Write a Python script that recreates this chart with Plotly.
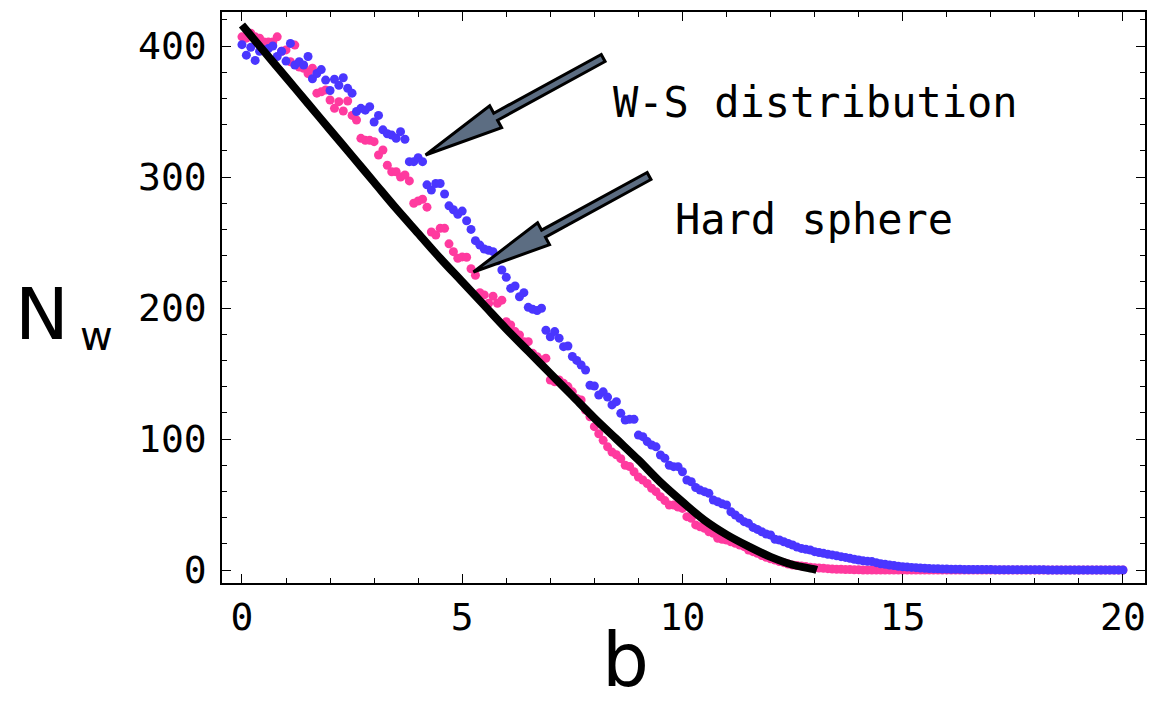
import numpy as np
import plotly.graph_objects as go

# ---------------- data ----------------
b_step = 0.1
b_vals = [round(i * b_step, 1) for i in range(201)]

ws_values = [
    401, 393, 399, 389, 396, 397, 398, 400, 392, 396,
    388.5, 402, 385.5, 388, 385.5, 392, 375, 379, 382, 374,
    366, 374.6, 370, 375.8, 367.7, 364, 350, 352.4, 351, 353.7,
    342, 347, 336, 333, 332, 329.5, 334.6, 328.8, 311.7, 311.7,
    314.7, 311.7, 294, 290, 295, 295, 287, 278, 275, 271.5,
    274, 266.6, 260, 251.4, 248, 245, 244, 243, 236, 229,
    223.4, 215, 216.8, 208.6, 211.7, 200.5, 199, 198, 199.8, 183,
    178, 182, 177, 170.5, 171, 163, 160, 156.5, 152.7, 141,
    140.5, 133.6, 136, 132, 126, 128.5, 119.6, 114.5, 115, 115,
    103, 101.8, 98, 95.4, 94, 87.8, 85.3, 80, 78.9, 78.9,
    75, 68.7, 67.4, 63, 61, 59.8, 58.5, 53.4, 52.1, 50.5,
    49.6, 44.5, 42, 39.5, 36.9, 35.6, 32.5, 31, 29.2, 27.5,
    26.7, 23.5, 22.9, 21.6, 20.3, 19.1, 17.5, 16.5, 15.8, 15.3,
    14, 13.4, 12.7, 12, 11.5, 10.8, 10.2, 9.6, 9, 8.2,
    7.6, 7, 6.6, 6.4, 5.6, 4.8, 4.4, 3.8, 3.4, 2.9,
    2.5, 2.2, 2, 1.8, 1.5, 1.3, 1.1, 1.0, 0.9, 0.8,
    0.7, 0.6, 0.5, 0.5, 0.4, 0.4, 0.4, 0.3, 0.3, 0.3,
    0.3, 0.2, 0.2, 0.2, 0.2, 0.1, 0.1, 0.1, 0.1, 0.1,
    0.1, 0.1, 0.1, 0, 0, 0, 0, 0, 0, 0,
    0, 0, 0, 0, 0, 0, 0, 0, 0, 0,
    0,
]

hs_values = [
    407, 406, 409.7, 407, 406, 403, 403, 403, 407, 396,
    397, 388, 400.7, 384, 383, 379, 383, 364, 365, 366.4,
    358.8, 352.4, 357.5, 350.4, 358, 347, 343.5, 329.5, 328, 328,
    327, 316.8, 320.6, 309, 304, 304, 300, 301.5, 297, 280,
    281.7, 283, 277, 258, 255.7, 260.8, 260.8, 249, 243, 238,
    239, 238.7, 230, 225, 211.7, 210, 203.6, 209, 203.6, 206,
    189.5, 187, 182, 179.4, 174.3, 174.3, 165.4, 162.8, 160.3, 161.6,
    145, 143.7, 145, 142.5, 140, 136, 131, 129.8, 122, 117,
    109.4, 104, 99, 94, 90, 88, 85, 80, 79, 75,
    71, 68.7, 66, 62.4, 59.8, 56, 53, 49.6, 49.6, 48,
    47, 40.7, 39.5, 34.4, 33, 31.8, 29.2, 28, 24.2, 23.5,
    22.9, 21.5, 20.4, 19, 17.8, 15.3, 14, 12.7, 11, 9.7,
    8.5, 7.6, 6.5, 5.6, 4.5, 3.8, 3.4, 3.1, 2.6, 2.1,
    1.8, 1.5, 1.3, 1.0, 0.8, 0.6, 0.5, 0.4, 0.3, 0.2,
    0.1, 0, 0, 0, 0, 0, 0, 0, 0, 0,
    0, 0, 0, 0, 0, 0, 0, 0, 0, 0,
    0, 0, 0, 0, 0, 0, 0, 0, 0, 0,
    0, 0, 0, 0, 0, 0, 0, 0, 0, 0,
    0, 0, 0, 0, 0, 0, 0, 0, 0, 0,
    0, 0, 0, 0, 0, 0, 0, 0, 0, 0,
    0,
]

curve_b = [0, 0.5, 1, 1.5, 2, 2.5, 3, 3.5, 4, 4.5, 5, 5.5, 6, 6.5, 7, 7.5,
           8, 8.5, 9, 9.5, 10, 10.5, 11, 11.5, 12, 12.5, 13, 13.05]
curve_n = [416, 396, 376, 356, 336, 316, 296, 276, 257, 238, 220, 202, 184, 167,
           150, 133, 116, 100, 84, 67, 52, 38, 27, 18, 10, 4, 0.5, 0]

x_ticks = [0, 5, 10, 15, 20]
y_ticks = [0, 100, 200, 300, 400]

label_ws = "W-S distribution"
label_hs = "Hard sphere"

# ---------------- layout geometry (pixels) ----------------
W, H = 1154, 706
PL, PR, PT, PB = 222, 1147, 12, 583
x_range = [-0.453, 20.5]
y_range = [-9.92, 425.95]

pink = "#ff3a9f"
blue = "#4a36ff"

fig = go.Figure()
fig.add_trace(go.Scatter(x=b_vals, y=hs_values, mode="markers",
                         marker=dict(color=pink, size=9, line=dict(width=0)),
                         name=label_hs, showlegend=False))
fig.add_trace(go.Scatter(x=b_vals, y=ws_values, mode="markers",
                         marker=dict(color=blue, size=9, line=dict(width=0)),
                         name=label_ws, showlegend=False))
fig.add_trace(go.Scatter(x=curve_b, y=curve_n, mode="lines",
                         line=dict(color="black", width=8, shape="spline"),
                         showlegend=False))


def px2paper(px, py):
    return ((px - PL) / (PR - PL), (PB - py) / (PB - PT))


def arrow_path(tip, tail, hs=4.0, hh=12.5, hl=80.0):
    tx, ty = tip
    ax, ay = tail
    dx, dy = ax - tx, ay - ty
    L = (dx * dx + dy * dy) ** 0.5
    ux, uy = dx / L, dy / L
    nx, ny = -uy, ux
    pts = [
        (tx, ty),
        (tx + ux * hl + nx * hh, ty + uy * hl + ny * hh),
        (tx + ux * hl + nx * hs, ty + uy * hl + ny * hs),
        (ax + nx * hs, ay + ny * hs),
        (ax - nx * hs, ay - ny * hs),
        (tx + ux * hl - nx * hs, ty + uy * hl - ny * hs),
        (tx + ux * hl - nx * hh, ty + uy * hl - ny * hh),
    ]
    pp = [px2paper(*p) for p in pts]
    return "M " + " L ".join(f"{x:.5f},{y:.5f}" for x, y in pp) + " Z"


for tip, tail in [((426, 155), (604, 58)), ((474, 272), (650, 176))]:
    fig.add_shape(type="path", path=arrow_path(tip, tail), xref="paper", yref="paper",
                  fillcolor="#5c6d82", line=dict(color="black", width=3), layer="above")


def add_text(px, py, text, family, size):
    x, y = px2paper(px, py)
    fig.add_annotation(x=x, y=y, xref="paper", yref="paper", text=text, showarrow=False,
                       xanchor="center", yanchor="middle",
                       font=dict(family=family, size=size, color="black"))


mono = "DejaVu Sans Mono"
add_text(817, 102, label_ws, mono, 42)
add_text(815, 219, label_hs, mono, 42)

# axis titles
add_text(42, 314, "N", "DejaVu Sans", 72)
add_text(96, 336, "w", "DejaVu Sans", 40)
add_text(626, 660, "b", "DejaVu Sans", 74)

axis_common = dict(showline=True, linecolor="black", linewidth=1.5, mirror="allticks",
                   ticks="inside", tickcolor="black", tickwidth=1.2, ticklen=9,
                   showgrid=False, zeroline=False,
                   tickfont=dict(family=mono, size=38, color="black"))

fig.update_xaxes(range=x_range, tickvals=x_ticks, ticktext=[str(v) for v in x_ticks],
                 minor=dict(dtick=1, tick0=0, ticks="inside", ticklen=5, tickcolor="black",
                            tickwidth=1, showgrid=False),
                 **axis_common)
fig.update_yaxes(range=y_range, tickvals=y_ticks, ticktext=[str(v) for v in y_ticks],
                 minor=dict(dtick=20, tick0=0, ticks="inside", ticklen=5, tickcolor="black",
                            tickwidth=1, showgrid=False),
                 ticklabelstandoff=6,
                 **axis_common)

fig.update_layout(width=W, height=H, margin=dict(l=PL, r=W - PR, t=PT, b=H - PB),
                  plot_bgcolor="white", paper_bgcolor="white", showlegend=False)

fig.write_html("out.html")
